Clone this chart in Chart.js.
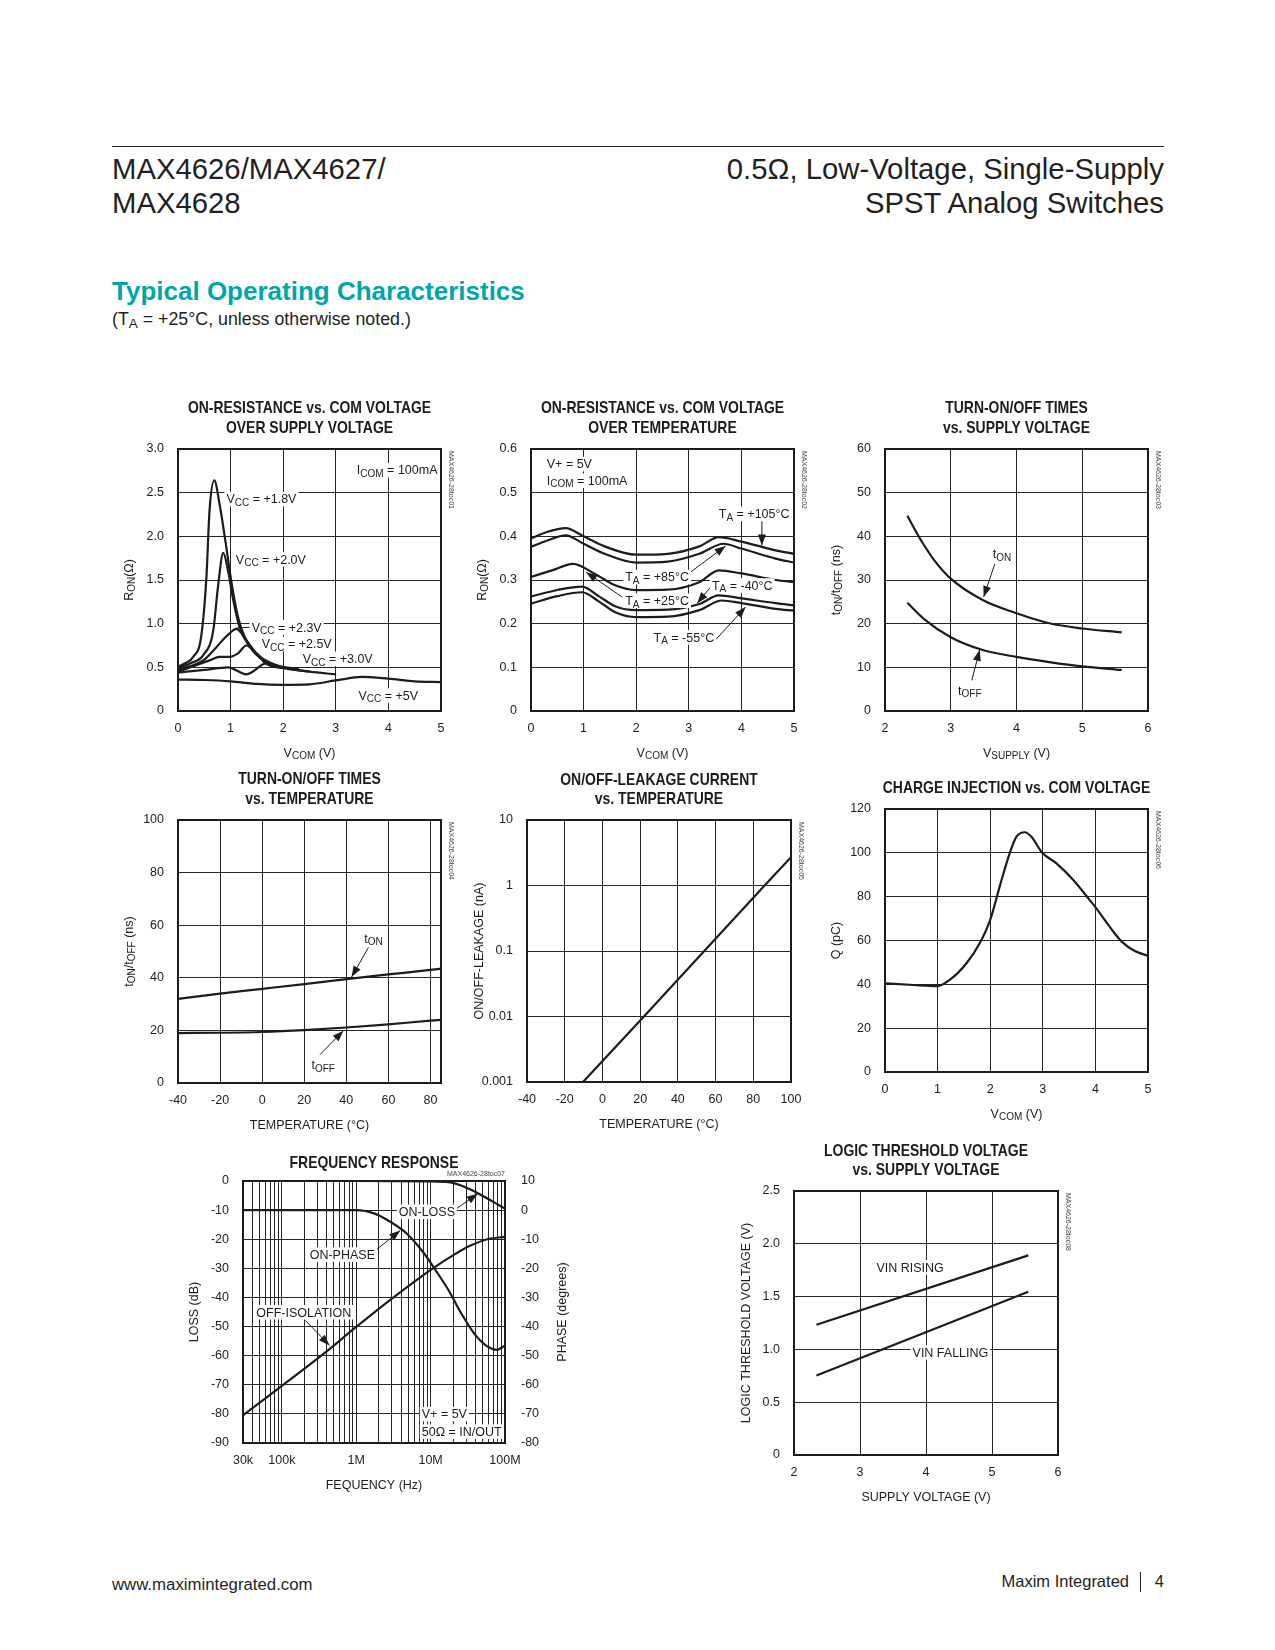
<!DOCTYPE html>
<html><head><meta charset="utf-8">
<script src="https://cdn.jsdelivr.net/npm/chart.js@4.4.1/dist/chart.umd.min.js"></script>
<style>
body{margin:0;background:#fff;width:1275px;height:1650px;position:relative;overflow:hidden;font-family:"Liberation Sans",Arial,sans-serif;color:#231f20}
.t{position:absolute;white-space:nowrap}
canvas{position:absolute}
</style></head><body>
<div class="t" style="left:112px;top:146px;width:1052px;height:0;border-top:1.8px solid #231f20"></div>
<div class="t" style="left:112px;top:154px;font-size:29.3px;line-height:29px">MAX4626/MAX4627/</div>
<div class="t" style="left:112px;top:188px;font-size:29.3px;line-height:29px">MAX4628</div>
<div class="t" style="right:111px;top:154px;font-size:29.3px;line-height:29px;text-align:right">0.5Ω, Low-Voltage, Single-Supply</div>
<div class="t" style="right:111px;top:188px;font-size:29.3px;line-height:29px;text-align:right">SPST Analog Switches</div>
<div class="t" style="left:112px;top:278px;font-size:26px;line-height:26px;font-weight:bold;color:#00a7a8">Typical Operating Characteristics</div>
<div class="t" style="left:112px;top:311px;font-size:17.8px;line-height:17px">(T<span style="font-size:13.5px;position:relative;top:3px">A</span> = +25°C, unless otherwise noted.)</div>
<div class="t" style="left:112px;top:1577px;font-size:16.8px;line-height:16.5px">www.maximintegrated.com</div>
<div class="t" style="right:146px;top:1573px;font-size:16.5px;line-height:16.5px">Maxim Integrated</div>
<div class="t" style="left:1140px;top:1572px;width:0;height:20px;border-left:1.2px solid #231f20"></div>
<div class="t" style="right:111px;top:1573px;font-size:16.5px;line-height:16.5px">4</div>

<canvas id="c1"></canvas><canvas id="c2"></canvas><canvas id="c3"></canvas><canvas id="c4"></canvas>
<canvas id="c5"></canvas><canvas id="c6"></canvas><canvas id="c7"></canvas><canvas id="c8"></canvas>
<script>
// ---------- DATA ----------
// Chart 1: On-resistance vs COM voltage over supply voltage  [VCOM (V), RON (ohm)]
const c1_xTicks = [0,1,2,3,4,5];
const c1_xLabels = ['0','1','2','3','4','5'];
const c1_yTicks = [0,0.5,1.0,1.5,2.0,2.5,3.0];
const c1_yLabels = ['0','0.5','1.0','1.5','2.0','2.5','3.0'];
const c1_vcc18 = [[0,0.51],[0.15,0.55],[0.29,0.62],[0.44,0.85],[0.54,1.53],[0.60,2.30],[0.69,2.64],[0.79,2.37],[0.89,1.99],[1.02,1.46],[1.14,1.08],[1.30,0.81],[1.56,0.62],[1.80,0.54]];
const c1_vcc20 = [[0,0.49],[0.25,0.55],[0.48,0.64],[0.67,0.92],[0.76,1.42],[0.86,1.81],[0.95,1.61],[1.05,1.27],[1.17,0.96],[1.37,0.73],[1.62,0.58],[2.0,0.50]];
const c1_vcc23 = [[0,0.47],[0.48,0.58],[0.73,0.73],[0.86,0.82],[0.98,0.89],[1.11,0.94],[1.30,0.81],[1.49,0.66],[1.75,0.54],[2.3,0.48]];
const c1_vcc25 = [[0,0.45],[0.60,0.58],[0.79,0.62],[0.98,0.62],[1.14,0.66],[1.30,0.75],[1.49,0.66],[1.68,0.54],[2.0,0.49],[2.5,0.45]];
const c1_vcc30 = [[0,0.44],[0.5,0.47],[0.95,0.50],[1.30,0.42],[1.70,0.55],[2.0,0.50],[2.5,0.45],[3.0,0.42]];
const c1_vcc50 = [[0,0.36],[0.5,0.355],[1.0,0.34],[1.5,0.31],[2.0,0.30],[2.5,0.305],[3.0,0.35],[3.5,0.39],[4.0,0.37],[4.5,0.34],[5.0,0.33]];

// Chart 2: On-resistance vs COM voltage over temperature
const c2_yTicks = [0,0.1,0.2,0.3,0.4,0.5,0.6];
const c2_yLabels = ['0','0.1','0.2','0.3','0.4','0.5','0.6'];
const c2_t105 = [[0,0.395],[0.3,0.41],[0.66,0.419],[1.0,0.40],[1.4,0.377],[2.0,0.358],[2.6,0.36],[3.2,0.377],[3.57,0.398],[4.0,0.388],[4.65,0.368],[5.0,0.36]];
const c2_t85 = [[0,0.376],[0.3,0.39],[0.66,0.402],[1.0,0.383],[1.4,0.36],[2.0,0.340],[2.6,0.342],[3.2,0.36],[3.66,0.383],[4.0,0.372],[4.65,0.349],[5.0,0.34]];
const c2_t25 = [[0,0.307],[0.4,0.322],[0.8,0.337],[1.2,0.315],[1.6,0.288],[2.0,0.277],[2.6,0.278],[3.2,0.295],[3.57,0.322],[4.0,0.315],[4.65,0.30],[5.0,0.295]];
const c2_tm40 = [[0,0.262],[0.5,0.277],[0.97,0.285],[1.3,0.262],[1.6,0.24],[2.0,0.231],[2.6,0.232],[3.2,0.245],[3.57,0.265],[4.0,0.258],[4.65,0.247],[5.0,0.242]];
const c2_tm55 = [[0,0.246],[0.5,0.263],[0.97,0.272],[1.3,0.25],[1.6,0.226],[2.0,0.215],[2.6,0.216],[3.2,0.231],[3.63,0.253],[4.0,0.247],[4.65,0.234],[5.0,0.23]];

// Chart 3: Turn-on/off times vs supply voltage [VSUPPLY (V), ns]
const c3_xTicks = [2,3,4,5,6];
const c3_xLabels = ['2','3','4','5','6'];
const c3_yTicks = [0,10,20,30,40,50,60];
const c3_yLabels = ['0','10','20','30','40','50','60'];
const c3_ton = [[2.34,44.7],[2.5,40.3],[2.58,38.3],[2.75,34.5],[3.0,30.3],[3.5,25.3],[4.0,22.4],[4.5,20.1],[5.0,18.9],[5.6,18.0]];
const c3_toff = [[2.34,24.8],[2.6,21.0],[3.0,16.9],[3.5,13.9],[4.0,12.4],[4.5,11.2],[5.0,10.2],[5.6,9.4]];

// Chart 4: Turn-on/off times vs temperature [°C, ns]
const c4_xTicks = [-40,-20,0,20,40,60,80,85];
const c4_xLabels = ['-40','-20','0','20','40','60','80',''];
const c4_yTicks = [0,20,40,60,80,100];
const c4_yLabels = ['0','20','40','60','80','100'];
const c4_ton = [[-40,32.0],[-20,34.0],[0,35.8],[20,37.6],[40,39.5],[60,41.3],[80,43.0],[85,43.5]];
const c4_toff = [[-40,19.0],[-20,19.1],[0,19.4],[20,20.1],[40,21.1],[60,22.3],[80,23.7],[85,24.0]];

// Chart 5: Leakage current vs temperature [°C, nA]
const c5_xTicks = [-40,-20,0,20,40,60,80,100];
const c5_xLabels = ['-40','-20','0','20','40','60','80','100'];
const c5_yTicks = [0.001,0.01,0.1,1,10];
const c5_yLabels = ['0.001','0.01','0.1','1','10'];
const c5_leak = [[-10.3,0.001],[22,0.01],[54,0.1],[86,1],[100,2.7]];

// Chart 6: Charge injection vs COM voltage [V, pC]
const c6_xTicks = [0,1,2,3,4,5];
const c6_xLabels = ['0','1','2','3','4','5'];
const c6_yTicks = [0,20,40,60,80,100,120];
const c6_yLabels = ['0','20','40','60','80','100','120'];
const c6_q = [[0,40.5],[0.54,39.7],[1.0,39.2],[1.23,42],[1.55,49.6],[1.80,58.7],[2.0,69.4],[2.18,84.6],[2.37,99.8],[2.5,107.4],[2.66,109.4],[2.78,107.4],[2.99,100],[3.26,95.2],[3.58,87.6],[3.89,78.5],[4.0,75.2],[4.27,66.3],[4.5,59.5],[4.75,55.2],[5.0,53]];

// Chart 7: Frequency response [Hz, dB / degrees]
const c7_xMajor = [3e4,1e5,1e6,1e7,1e8];
const c7_xMajorLabels = ['30k','100k','1M','10M','100M'];
const c7_yTicks = [-90,-80,-70,-60,-50,-40,-30,-20,-10,0];
const c7_yLabels = ['-90','-80','-70','-60','-50','-40','-30','-20','-10','0'];
const c7_y2Ticks = [-80,-70,-60,-50,-40,-30,-20,-10,0,10];
const c7_y2Labels = ['-80','-70','-60','-50','-40','-30','-20','-10','0','10'];
const c7_onLoss = [[3e4,0],[1e6,0],[1e7,-0.1],[1.5e7,-0.3],[2.1e7,-0.8],[3.5e7,-3.0],[5.8e7,-6.0],[1e8,-9.5]];
const c7_onPhase = [[3e4,0],[1e6,0],[1.77e6,-1.2],[2.9e6,-4.1],[4.8e6,-8.1],[7.9e6,-14.4],[1.17e7,-20.7],[1.75e7,-27.6],[2.6e7,-35.6],[3.88e7,-42.5],[5.78e7,-46.8],[7.8e7,-48],[1e8,-46.5]];
const c7_offIso = [[3e4,-80.5],[3.58e5,-59.5],[9.7e5,-50.4],[3.2e6,-39.9],[1.06e7,-30.1],[2.1e7,-25.2],[3.5e7,-22.1],[5.8e7,-20.0],[1e8,-19.2]];

// Chart 8: Logic threshold voltage vs supply voltage [V, V]
const c8_xTicks = [2,3,4,5,6];
const c8_xLabels = ['2','3','4','5','6'];
const c8_yTicks = [0,0.5,1.0,1.5,2.0,2.5];
const c8_yLabels = ['0','0.5','1.0','1.5','2.0','2.5'];
const c8_rising = [[2.34,1.234],[5.55,1.89]];
const c8_falling = [[2.34,0.753],[5.55,1.546]];

// ---------- RENDERING ----------
const INK = '#1c1c1c';
const FR = '"Liberation Sans", Arial, sans-serif';
const TS = 12.5;
Chart.defaults.font.family = FR;
Chart.defaults.font.size = TS;
Chart.defaults.color = INK;

function S(...parts){ return parts.map(p => p[0]==='_' ? [p.slice(1),1] : [p,0]); }
function pts(a){ return a.map(p => ({x:p[0], y:p[1]})); }

function richW(ctx, segs, size, fam, wt){
  let w = 0;
  for (const [t,sub] of segs){ ctx.font = `${wt} ${sub?size*0.8:size}px ${fam}`; w += ctx.measureText(t).width; }
  return w;
}
function drawRich(ctx, segs, x, y, align, size, fam, wt, bg){
  const w = richW(ctx, segs, size, fam, wt);
  let x0 = align==='center' ? x - w/2 : align==='right' ? x - w : x;
  const base = y + size*0.36;
  if (bg){ ctx.fillStyle = '#fff'; ctx.fillRect(x0-2, y-size*0.56, w+4, size*1.16); }
  ctx.fillStyle = INK; ctx.textAlign = 'left'; ctx.textBaseline = 'alphabetic';
  for (const [t,sub] of segs){
    const s = sub ? size*0.8 : size;
    ctx.font = `${wt} ${s}px ${fam}`;
    ctx.fillText(t, x0, sub ? base + size*0.2 : base);
    x0 += ctx.measureText(t).width;
  }
}
function arrow(ctx, x1, y1, x2, y2, head){
  ctx.strokeStyle = INK; ctx.fillStyle = INK; ctx.lineWidth = 1;
  ctx.beginPath(); ctx.moveTo(x1,y1); ctx.lineTo(x2,y2); ctx.stroke();
  if (!head) return;
  const a = Math.atan2(y2-y1, x2-x1), L = 11, W = 4;
  ctx.beginPath(); ctx.moveTo(x2,y2);
  ctx.lineTo(x2 - L*Math.cos(a) + W*Math.sin(a), y2 - L*Math.sin(a) - W*Math.cos(a));
  ctx.lineTo(x2 - L*Math.cos(a) - W*Math.sin(a), y2 - L*Math.sin(a) + W*Math.cos(a));
  ctx.closePath(); ctx.fill();
}

const deco = {
  id: 'deco',
  afterDraw(chart, args, o){
    const ctx = chart.ctx, ca = chart.chartArea, sx = chart.scales.x;
    ctx.save();
    (o.lines||[]).forEach(l => {
      const sy = chart.scales[l.ax||'y'];
      arrow(ctx, sx.getPixelForValue(l.x1), sy.getPixelForValue(l.y1), sx.getPixelForValue(l.x2), sy.getPixelForValue(l.y2), l.head !== false);
    });
    (o.notes||[]).forEach(n => {
      const sy = chart.scales[n.ax||'y'];
      drawRich(ctx, n.s, sx.getPixelForValue(n.x), sy.getPixelForValue(n.y), n.a||'left', TS, FR, 'normal', n.bg !== false);
    });
    ctx.lineWidth = 2; ctx.strokeStyle = INK;
    ctx.strokeRect(ca.left, ca.top, ca.right-ca.left, ca.bottom-ca.top);
    const cx = (ca.left+ca.right)/2, cy = (ca.top+ca.bottom)/2;
    o.title.forEach((t,i) => {
      ctx.save(); ctx.translate(cx, ca.top + o.titleY[i]); ctx.scale(0.82, 1);
      drawRich(ctx, [[t,0]], 0, 0, 'center', 17, FR, 'bold', false);
      ctx.restore();
    });
    drawRich(ctx, o.xTitle, cx, ca.bottom + 41, 'center', TS, FR, 'normal', false);
    ctx.save(); ctx.translate(ca.left - (o.yTitleDx||50), cy); ctx.rotate(-Math.PI/2);
    drawRich(ctx, o.yTitle, 0, 0, 'center', TS, FR, 'normal', false); ctx.restore();
    if (o.y2Title){
      ctx.save(); ctx.translate(ca.right + 56, cy); ctx.rotate(-Math.PI/2);
      drawRich(ctx, o.y2Title, 0, 0, 'center', TS, FR, 'normal', false); ctx.restore();
    }
    ctx.fillStyle = '#444'; ctx.font = `7px ${FR}`;
    if (o.markH){
      ctx.textAlign = 'right'; ctx.textBaseline = 'bottom';
      ctx.fillText(o.mark, ca.right, ca.top - 3);
    } else {
      ctx.save(); ctx.translate(ca.right + 6, ca.top + 2); ctx.rotate(Math.PI/2);
      ctx.textAlign = 'left'; ctx.textBaseline = 'bottom';
      ctx.fillText(o.mark, 0, 0); ctx.restore();
    }
    ctx.restore();
  }
};

function tickFn(labels){ return (v, i) => labels[i]; }

function axis(type, min, max, ticks, labels, pos, fitKey, fitVal, pad, gridOn){
  return {
    type, min, max, position: pos,
    afterBuildTicks: s => { s.ticks = ticks.map(v => ({value: v})); },
    afterFit: s => { s[fitKey] = fitVal; },
    ticks: { callback: tickFn(labels), autoSkip: false, maxRotation: 0, padding: pad, color: INK, font: {size: TS, family: FR} },
    grid: { display: gridOn !== false, color: '#262626', lineWidth: 1, drawTicks: false },
    border: { display: false }
  };
}

function panel(id, box, cfg){
  const ML = 75, MT = 60, MB = 60, MR = cfg.mr || 30;
  const cv = document.getElementById(id);
  const W = Math.round(box.r - box.l) + ML + MR, H = Math.round(box.b - box.t) + MT + MB;
  cv.width = W; cv.height = H;
  cv.style.left = (box.l - ML) + 'px'; cv.style.top = (box.t - MT) + 'px';
  cv.style.width = W + 'px'; cv.style.height = H + 'px';
  const scales = {
    x: axis(cfg.xType||'linear', cfg.xMin, cfg.xMax, cfg.xTicks, cfg.xLabels, 'bottom', 'height', MB, 10),
    y: axis(cfg.yType||'linear', cfg.yMin, cfg.yMax, cfg.yTicks, cfg.yLabels, 'left', 'width', ML, 14)
  };
  if (cfg.y2) scales.y2 = axis('linear', cfg.y2.min, cfg.y2.max, cfg.y2.ticks, cfg.y2.labels, 'right', 'width', MR, 16, false);
  new Chart(cv, {
    type: 'line',
    data: { datasets: cfg.series.map(s => ({
      data: pts(s.d), yAxisID: s.ax || 'y', borderColor: INK, borderWidth: 2.2, pointRadius: 0,
      fill: false, cubicInterpolationMode: s.straight ? 'default' : 'monotone', tension: s.straight ? 0 : 0.4
    })) },
    options: {
      responsive: false, animation: false, events: [], devicePixelRatio: 1,
      layout: { padding: { left: 0, top: MT, right: cfg.y2 ? 0 : MR, bottom: 0 } },
      scales,
      plugins: { legend: {display: false}, tooltip: {enabled: false}, title: {display: false}, deco: cfg.deco }
    },
    plugins: [deco]
  });
}

// Chart 1
panel('c1', {l:178.3, t:449, r:441, b:711}, {
  xMin:0, xMax:5, xTicks:c1_xTicks, xLabels:c1_xLabels,
  yMin:0, yMax:3, yTicks:c1_yTicks, yLabels:c1_yLabels,
  series:[{d:c1_vcc18},{d:c1_vcc20},{d:c1_vcc23},{d:c1_vcc25},{d:c1_vcc30},{d:c1_vcc50}],
  deco:{ title:['ON-RESISTANCE vs. COM VOLTAGE','OVER SUPPLY VOLTAGE'], titleY:[-42,-22],
    xTitle:S('V','_COM',' (V)'), yTitle:S('R','_ON','(Ω)'), mark:'MAX4626-28toc01',
    lines:[{x1:1.11,y1:0.95,x2:1.40,y2:0.96,head:false}],
    notes:[
      {x:3.40,y:2.76,s:S('I','_COM',' = 100mA')},
      {x:0.92,y:2.43,s:S('V','_CC',' = +1.8V')},
      {x:1.10,y:1.74,s:S('V','_CC',' = +2.0V')},
      {x:1.40,y:0.96,s:S('V','_CC',' = +2.3V')},
      {x:1.59,y:0.77,s:S('V','_CC',' = +2.5V')},
      {x:2.37,y:0.60,s:S('V','_CC',' = +3.0V')},
      {x:3.43,y:0.18,s:S('V','_CC',' = +5V')}
    ]}
});

// Chart 2
panel('c2', {l:531, t:449, r:794, b:711}, {
  xMin:0, xMax:5, xTicks:c1_xTicks, xLabels:c1_xLabels,
  yMin:0, yMax:0.6, yTicks:c2_yTicks, yLabels:c2_yLabels,
  series:[{d:c2_t105},{d:c2_t85},{d:c2_t25},{d:c2_tm40},{d:c2_tm55}],
  deco:{ title:['ON-RESISTANCE vs. COM VOLTAGE','OVER TEMPERATURE'], titleY:[-42,-22],
    xTitle:S('V','_COM',' (V)'), yTitle:S('R','_ON','(Ω)'), mark:'MAX4626-28toc02',
    lines:[
      {x1:4.39,y1:0.435,x2:4.39,y2:0.379},
      {x1:3.0,y1:0.315,x2:3.70,y2:0.378},
      {x1:1.73,y1:0.261,x2:1.05,y2:0.318},
      {x1:3.47,y1:0.292,x2:3.16,y2:0.247},
      {x1:3.47,y1:0.158,x2:4.08,y2:0.238}
    ],
    notes:[
      {x:0.30,y:0.566,s:S('V+ = 5V')},
      {x:0.30,y:0.528,s:S('I','_COM',' = 100mA')},
      {x:3.57,y:0.452,s:S('T','_A',' = +105°C')},
      {x:1.79,y:0.307,s:S('T','_A',' = +85°C')},
      {x:1.79,y:0.253,s:S('T','_A',' = +25°C')},
      {x:3.44,y:0.288,s:S('T','_A',' = -40°C')},
      {x:2.33,y:0.169,s:S('T','_A',' = -55°C')}
    ]}
});

// Chart 3
panel('c3', {l:885, t:449, r:1148.3, b:711}, {
  xMin:2, xMax:6, xTicks:c3_xTicks, xLabels:c3_xLabels,
  yMin:0, yMax:60, yTicks:c3_yTicks, yLabels:c3_yLabels,
  series:[{d:c3_ton},{d:c3_toff}],
  deco:{ title:['TURN-ON/OFF TIMES','vs. SUPPLY VOLTAGE'], titleY:[-42,-22],
    xTitle:S('V','_SUPPLY',' (V)'), yTitle:S('t','_ON','/t','_OFF',' (ns)'), mark:'MAX4626-28toc03',
    lines:[{x1:3.67,y1:33.7,x2:3.50,y2:26.1},{x1:3.32,y1:7.0,x2:3.44,y2:14.0}],
    notes:[{x:3.78,y:36,s:S('t','_ON'),a:'center'},{x:3.29,y:4.7,s:S('t','_OFF'),a:'center'}]}
});

// Chart 4
panel('c4', {l:178.3, t:820, r:441, b:1083}, {
  xMin:-40, xMax:85, xTicks:c4_xTicks, xLabels:c4_xLabels,
  yMin:0, yMax:100, yTicks:c4_yTicks, yLabels:c4_yLabels,
  series:[{d:c4_ton},{d:c4_toff}],
  deco:{ title:['TURN-ON/OFF TIMES','vs. TEMPERATURE'], titleY:[-42,-22],
    xTitle:S('TEMPERATURE (°C)'), yTitle:S('t','_ON','/t','_OFF',' (ns)'), mark:'MAX4626-28toc04',
    lines:[{x1:50.5,y1:51.5,x2:42.5,y2:40.3},{x1:27.5,y1:10.8,x2:38.6,y2:19.9}],
    notes:[{x:52.9,y:55,s:S('t','_ON'),a:'center'},{x:29,y:7,s:S('t','_OFF'),a:'center'}]}
});

// Chart 5
panel('c5', {l:527.3, t:820, r:791.5, b:1082}, {
  xMin:-40, xMax:100, xTicks:c5_xTicks, xLabels:c5_xLabels,
  yType:'logarithmic', yMin:0.001, yMax:10, yTicks:c5_yTicks, yLabels:c5_yLabels,
  series:[{d:c5_leak, straight:true}],
  deco:{ title:['ON/OFF-LEAKAGE CURRENT','vs. TEMPERATURE'], titleY:[-41,-22],
    xTitle:S('TEMPERATURE (°C)'), yTitle:S('ON/OFF-LEAKAGE (nA)'), yTitleDx:49, mark:'MAX4626-28toc05' }
});

// Chart 6
panel('c6', {l:885, t:809, r:1148.3, b:1072}, {
  xMin:0, xMax:5, xTicks:c6_xTicks, xLabels:c6_xLabels,
  yMin:0, yMax:120, yTicks:c6_yTicks, yLabels:c6_yLabels,
  series:[{d:c6_q}],
  deco:{ title:['CHARGE INJECTION vs. COM VOLTAGE'], titleY:[-22],
    xTitle:S('V','_COM',' (V)'), yTitle:S('Q (pC)'), mark:'MAX4626-28toc06' }
});

// Chart 7
const c7_lab = {}; c7_xMajor.forEach((v,i) => { c7_lab[v] = c7_xMajorLabels[i]; });
const c7_grid = [];
for (let dec = 1e4; dec <= 1e7; dec *= 10) for (let k = 1; k <= 9; k++) { const v = k*dec; if (v >= 3e4) c7_grid.push(v); }
c7_grid.push(1e8);
panel('c7', {l:243.3, t:1180.7, r:505, b:1442.6}, {
  mr:75,
  xType:'logarithmic', xMin:3e4, xMax:1e8, xTicks:c7_grid, xLabels:c7_grid.map(v => c7_lab[v] || ''),
  yMin:-90, yMax:0, yTicks:c7_yTicks, yLabels:c7_yLabels,
  y2:{min:-80, max:10, ticks:c7_y2Ticks, labels:c7_y2Labels},
  series:[{d:c7_onLoss},{d:c7_onPhase, ax:'y2'},{d:c7_offIso}],
  deco:{ title:['FREQUENCY RESPONSE'], titleY:[-19],
    xTitle:S('FEQUENCY (Hz)'), yTitle:S('LOSS (dB)'), yTitleDx:50, y2Title:S('PHASE (degrees)'),
    mark:'MAX4626-28toc07', markH:true,
    lines:[{x1:2.0e7,y1:-10.3,x2:4.3e7,y2:-4.4},{x1:1.6e6,y1:-25,x2:3.9e6,y2:-17},{x1:2.07e5,y1:-47.9,x2:4.37e5,y2:-56.5}],
    notes:[
      {x:8.9e6,y:-10.5,s:S('ON-LOSS'),a:'center'},
      {x:6.5e5,y:-25.2,s:S('ON-PHASE'),a:'center'},
      {x:1.97e5,y:-45,s:S('OFF-ISOLATION'),a:'center'},
      {x:7.6e6,y:-80,s:S('V+ = 5V')},
      {x:7.6e6,y:-86,s:S('50Ω = IN/OUT')}
    ]}
});

// Chart 8
panel('c8', {l:794, t:1190.7, r:1058, b:1454.3}, {
  xMin:2, xMax:6, xTicks:c8_xTicks, xLabels:c8_xLabels,
  yMin:0, yMax:2.5, yTicks:c8_yTicks, yLabels:c8_yLabels,
  series:[{d:c8_rising, straight:true},{d:c8_falling, straight:true}],
  deco:{ title:['LOGIC THRESHOLD VOLTAGE','vs. SUPPLY VOLTAGE'], titleY:[-41,-22],
    xTitle:S('SUPPLY VOLTAGE (V)'), yTitle:S('LOGIC THRESHOLD VOLTAGE (V)'), yTitleDx:49, mark:'MAX4626-28toc08',
    notes:[{x:3.76,y:1.78,s:S('VIN RISING'),a:'center'},{x:4.37,y:0.975,s:S('VIN FALLING'),a:'center'}]}
});
</script>
</body></html>
